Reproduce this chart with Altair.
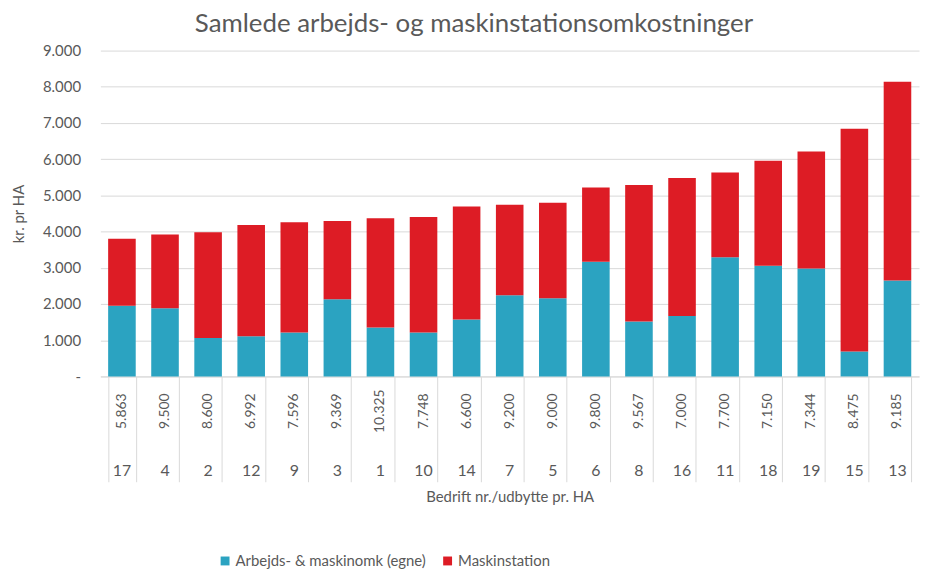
import altair as alt
import pandas as pd

companies = ["17", "4", "2", "12", "9", "3", "1", "10", "14", "7", "5", "6", "8", "16", "11", "18", "19", "15", "13"]
yields = ["5.863", "9.500", "8.600", "6.992", "7.596", "9.369", "10.325", "7.748", "6.600", "9.200",
          "9.000", "9.800", "9.567", "7.000", "7.700", "7.150", "7.344", "8.475", "9.185"]
egne = [1950, 1880, 1060, 1110, 1210, 2130, 1350, 1210, 1570, 2240, 2160, 3170, 1520, 1670, 3290, 3060, 2980, 690, 2650]
maskinstation = [1850, 2040, 2920, 3070, 3050, 2160, 3020, 3190, 3120, 2500, 2640, 2050, 3770, 3810, 2340, 2900, 3230, 6150, 5490]

series_names = ["Arbejds- & maskinomk (egne)", "Maskinstation"]
series_colors = ["#2ba3c1", "#dd1c25"]

rows = []
for c, y, a, m in zip(companies, yields, egne, maskinstation):
    rows.append({"bedrift": c, "udbytte": y, "serie": series_names[0], "ord": 0, "vaerdi": a})
    rows.append({"bedrift": c, "udbytte": y, "serie": series_names[1], "ord": 1, "vaerdi": m})
df = pd.DataFrame(rows)
lab = pd.DataFrame({"bedrift": companies, "udbytte": yields})

FONT = "Lato"
GREY = "#595959"
LINE = "#d9d9d9"
H = 328

xenc = alt.X(
    "bedrift:N",
    sort=companies,
    scale=alt.Scale(paddingInner=0.36, paddingOuter=0.18),
    axis=alt.Axis(
        labels=False,
        tickBand="extent",
        tickSize=106,
        tickColor=LINE,
        domainColor=LINE,
        title="Bedrift nr./udbytte pr. HA",
        titleFont=FONT,
        titleFontSize=15,
        titleFontWeight="normal",
        titleColor=GREY,
        titlePadding=7,
    ),
)

bars = alt.Chart(df).mark_bar().encode(
    x=xenc,
    y=alt.Y(
        "vaerdi:Q",
        stack="zero",
        scale=alt.Scale(domain=[0, 9000]),
        axis=alt.Axis(
            values=list(range(0, 9001, 1000)),
            labelExpr="datum.value == 0 ? '-' : replace(format(datum.value, ','), ',', '.')",
            labelFont=FONT,
            labelFontSize=15,
            labelColor=GREY,
            labelPadding=20,
            ticks=False,
            domain=False,
            gridColor=LINE,
            title="kr. pr HA",
            titleFont=FONT,
            titleFontSize=15,
            titleFontWeight="normal",
            titleColor=GREY,
            titlePadding=16,
        ),
    ),
    color=alt.Color(
        "serie:N",
        scale=alt.Scale(domain=series_names, range=series_colors),
        legend=alt.Legend(
            orient="none",
            legendX=118,
            legendY=506,
            direction="horizontal",
            title=None,
            symbolType="square",
            symbolSize=80,
            symbolStrokeWidth=0,
            labelFont=FONT,
            labelFontSize=15,
            labelColor=GREY,
            labelLimit=0,
            columnPadding=14,
            labelOffset=3,
        ),
    ),
    order=alt.Order("ord:Q", sort="ascending"),
)

yield_text = alt.Chart(lab).mark_text(
    angle=270, font=FONT, fontSize=14, color=GREY, align="center", baseline="middle"
).encode(x=xenc, y=alt.value(H + 35), text="udbytte:N")

comp_text = alt.Chart(lab).mark_text(
    font=FONT, fontSize=16, color=GREY, align="center", baseline="middle"
).encode(x=xenc, y=alt.value(H + 95), text="bedrift:N")

chart = alt.layer(bars, yield_text, comp_text).properties(
    width=824,
    height=H,
    autosize=alt.AutoSizeParams(type="none"),
    padding={"left": 93, "top": 41, "right": 2, "bottom": 194},
    title=alt.TitleParams(
        "Samlede arbejds- og maskinstationsomkostninger",
        font=FONT,
        fontSize=26,
        fontWeight="normal",
        color=GREY,
        anchor="middle",
        frame="group",
        dx=-36,
        offset=7,
    ),
).configure_view(stroke=None)

chart.save("out.html", embed_options={"renderer": "svg", "actions": False})
